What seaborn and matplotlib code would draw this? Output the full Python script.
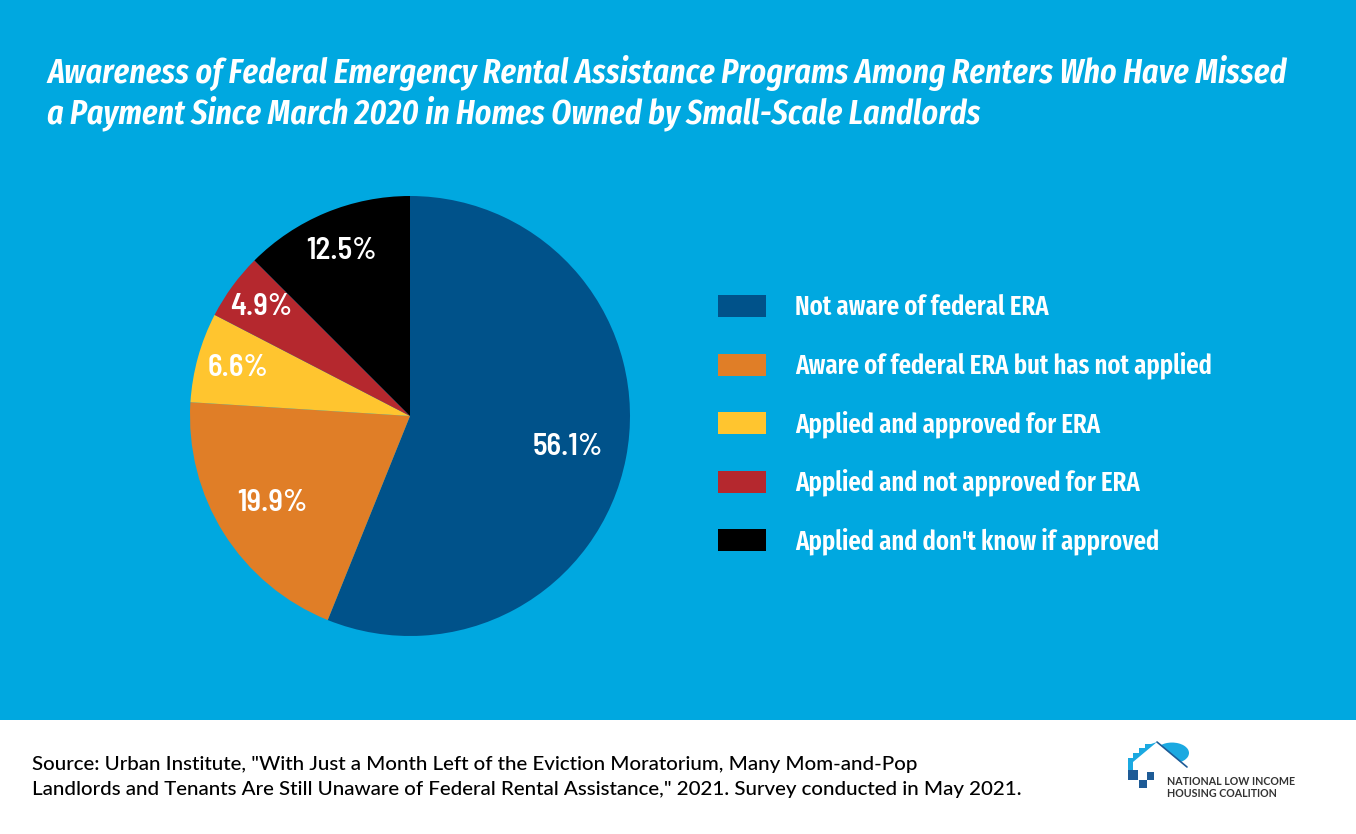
import matplotlib
matplotlib.use("Agg")
import matplotlib.pyplot as plt
import matplotlib.patches as mpatches
from matplotlib.font_manager import FontProperties
from matplotlib.textpath import TextPath
import numpy as np
import seaborn as sns

sns.set_theme(style="white")
plt.rcParams['font.family'] = ["Fira Sans Condensed", "DejaVu Sans"]

# ---- data ----
categories = [
    "Not aware of federal ERA",
    "Aware of federal ERA but has not applied",
    "Applied and approved for ERA",
    "Applied and not approved for ERA",
    "Applied and don't know if approved",
]
values = [56.1, 19.9, 6.6, 4.9, 12.5]
value_labels = ["56.1%", "19.9%", "6.6%", "4.9%", "12.5%"]
colors = ["#00528A", "#E07E27", "#FFC52F", "#B5282E", "#000000"]
label_dist = [0.73, 0.74, 0.81, 0.84, 0.81]

title_lines = [
    "Awareness of Federal Emergency Rental Assistance Programs Among Renters Who Have Missed",
    "a Payment Since March 2020 in Homes Owned by Small-Scale Landlords",
]
source_lines = [
    "Source: Urban Institute, \"With Just a Month Left of the Eviction Moratorium, Many Mom-and-Pop",
    "Landlords and Tenants Are Still Unaware of Federal Rental Assistance,\" 2021. Survey conducted in May 2021.",
]

W, H = 1356, 834
BG = "#00A8E0"
fig = plt.figure(figsize=(W / 100, H / 100), dpi=100, facecolor=BG)
renderer = fig.canvas.get_renderer()


def fx(x):
    return x / W


def fy(y):
    return 1 - y / H


def fit_width(t, target_px):
    w = t.get_window_extent(renderer).width
    t.set_fontsize(t.get_fontsize() * target_px / w)


def choose_font(text, cap_char, candidates, target_w, target_cap):
    """Pick the candidate font whose width/cap-height ratio best matches."""
    best = None
    for fam, weight, style in candidates:
        fp = FontProperties(family=[fam, "DejaVu Sans"], weight=weight, style=style)
        w = TextPath((0, 0), text, size=10, prop=fp).get_extents().width
        c = TextPath((0, 0), cap_char, size=10, prop=fp).get_extents().height
        score = abs(np.log((w / c) / (target_w / target_cap)))
        if best is None or score < best[0]:
            best = (score, fam, weight, style)
    return best[1:]


# white footer
fig.add_artist(mpatches.Rectangle((0, 0), 1, fy(720), transform=fig.transFigure,
                                  facecolor="white", edgecolor="none", zorder=0))

body_cands = [("Fira Sans Condensed", 600, "normal"),
              ("Fira Sans Extra Condensed", 600, "normal"),
              ("Roboto Condensed", 600, "normal"),
              ("PT Sans Narrow", 700, "normal"),
              ("Barlow Semi Condensed", 600, "normal"),
              ("Barlow Condensed", 600, "normal"),
              ("Encode Sans Condensed", 600, "normal")]
title_cands = [("Fira Sans Condensed", 600, "italic"),
               ("Fira Sans Extra Condensed", 600, "italic"),
               ("Roboto Condensed", 600, "italic"),
               ("Barlow Semi Condensed", 600, "italic"),
               ("Barlow Condensed", 600, "italic")]

# ---- pie ----
cx, cy, R = 410, 416, 220
ax = fig.add_axes([fx(cx - R), fy(cy + R), 2 * R / W, 2 * R / H])
ax.set_facecolor("none")
wedges, _ = ax.pie(values, colors=colors, startangle=90, counterclock=False,
                   radius=1, wedgeprops=dict(linewidth=0))
ax.set_xlim(-1, 1)
ax.set_ylim(-1, 1)
ax.set_aspect("equal")
ax.axis("off")
pfam, pw, pst = choose_font(value_labels[0], "5", body_cands, 68, 22)
pie_texts = []
for w, lab, d in zip(wedges, value_labels, label_dist):
    ang = np.deg2rad((w.theta1 + w.theta2) / 2)
    pie_texts.append(ax.text(d * np.cos(ang), d * np.sin(ang), lab, ha="center",
                             va="center", color="white", fontsize=22,
                             family=[pfam, "DejaVu Sans"], fontweight=pw))
fit_width(pie_texts[0], 70)
for t in pie_texts[1:]:
    t.set_fontsize(pie_texts[0].get_fontsize())

# ---- title ----
tfam, tw, tst = choose_font(title_lines[0], "H", title_cands, 1238, 24)
t1 = fig.text(fx(47), fy(83), title_lines[0], color="white", fontsize=22,
              family=[tfam, "DejaVu Sans"], fontweight=tw, fontstyle=tst,
              ha="left", va="baseline")
fit_width(t1, 1240)
t2 = fig.text(fx(47), fy(123), title_lines[1], color="white",
              fontsize=t1.get_fontsize(), family=[tfam, "DejaVu Sans"],
              fontweight=tw, fontstyle=tst, ha="left", va="baseline")

# ---- legend ----
lfam, lw_, lst = choose_font(categories[0], "N", body_cands, 253, 19)
probe = fig.text(0, 0, categories[1], fontsize=20, family=[lfam, "DejaVu Sans"],
                 fontweight=lw_)
fit_width(probe, 419)
fs = probe.get_fontsize()
probe.remove()
fs_px = fs * 100 / 72
handles = [mpatches.Patch(facecolor=c, edgecolor="none") for c in colors]


def make_legend(anchor, spacing):
    lg = fig.legend(handles, categories, loc="upper left",
                    bbox_to_anchor=anchor, frameon=False,
                    prop=dict(family=[lfam, "DejaVu Sans"], size=fs, weight=lw_),
                    handlelength=48 / fs_px, handleheight=24 / fs_px,
                    handletextpad=29 / fs_px, labelspacing=spacing, borderpad=0)
    for t in lg.get_texts():
        t.set_color("white")
    return lg


spacing = 1.0
leg = make_legend((fx(718), fy(290)), spacing)
fig.canvas.draw()
hb = [h.get_window_extent(renderer) for h in leg.legend_handles]
step = (hb[0].y0 - hb[-1].y0) / 4
spacing = spacing + (58.5 - step) / fs_px
leg.remove()
leg = make_legend((fx(718), fy(290)), spacing)
fig.canvas.draw()
hb0 = leg.legend_handles[0].get_window_extent(renderer)
dx = 718 - hb0.x0
dy = (H - 295) - hb0.y1
leg.remove()
leg = make_legend((fx(718 + dx), fy(290 - dy)), spacing)

# ---- source ----
s_texts = []
for i, line in enumerate(source_lines):
    s_texts.append(fig.text(fx(32), fy(770 + 25 * i), line, color="black",
                            fontsize=14, family=["Lato", "DejaVu Sans"],
                            fontweight="medium", ha="left", va="baseline"))
fit_width(s_texts[1], 995)
s_texts[0].set_fontsize(s_texts[1].get_fontsize())

# ---- logo ----
lb = "#1BA9E1"
db = "#1E5B96"
fig.add_artist(mpatches.Wedge((fx(1172), fy(753)), 17 / W, 0, 360,
                              transform=fig.transFigure, facecolor=lb,
                              edgecolor="none"))
house = [(1157, 742), (1192, 772), (1192, 800), (1120, 800), (1120, 762)]
fig.add_artist(mpatches.Polygon([(fx(x), fy(y)) for x, y in house], closed=True,
                                transform=fig.transFigure, facecolor="white",
                                edgecolor="none"))
fig.add_artist(plt.Line2D([fx(1157), fx(1187)], [fy(742), fy(767)],
                          transform=fig.transFigure, color=db, lw=1.2))
stairs = [(1128, 770), (1128, 758), (1133, 758), (1133, 753), (1139, 753),
          (1139, 748), (1145, 748), (1145, 744), (1151, 744), (1157, 742),
          (1133, 762), (1133, 770)]
fig.add_artist(mpatches.Polygon([(fx(x), fy(y)) for x, y in stairs], closed=True,
                                transform=fig.transFigure, facecolor=lb,
                                edgecolor="none"))
for (x0, y0, x1, y1) in [(1128, 770, 1138, 780), (1147, 772, 1154, 780),
                         (1139, 780, 1147, 788)]:
    fig.add_artist(mpatches.Rectangle((fx(x0), fy(y1)), (x1 - x0) / W, (y1 - y0) / H,
                                      transform=fig.transFigure, facecolor=db,
                                      edgecolor="none"))
l1 = fig.text(fx(1167), fy(785), "NATIONAL LOW INCOME", color="#333333", fontsize=7.6,
              family=["Lato", "DejaVu Sans"], fontweight="bold", ha="left", va="baseline")
fit_width(l1, 128)
fig.text(fx(1167), fy(797), "HOUSING COALITION", color="#333333",
         fontsize=l1.get_fontsize(), family=["Lato", "DejaVu Sans"],
         fontweight="bold", ha="left", va="baseline")

fig.savefig("out.png", dpi=100, facecolor=BG)
